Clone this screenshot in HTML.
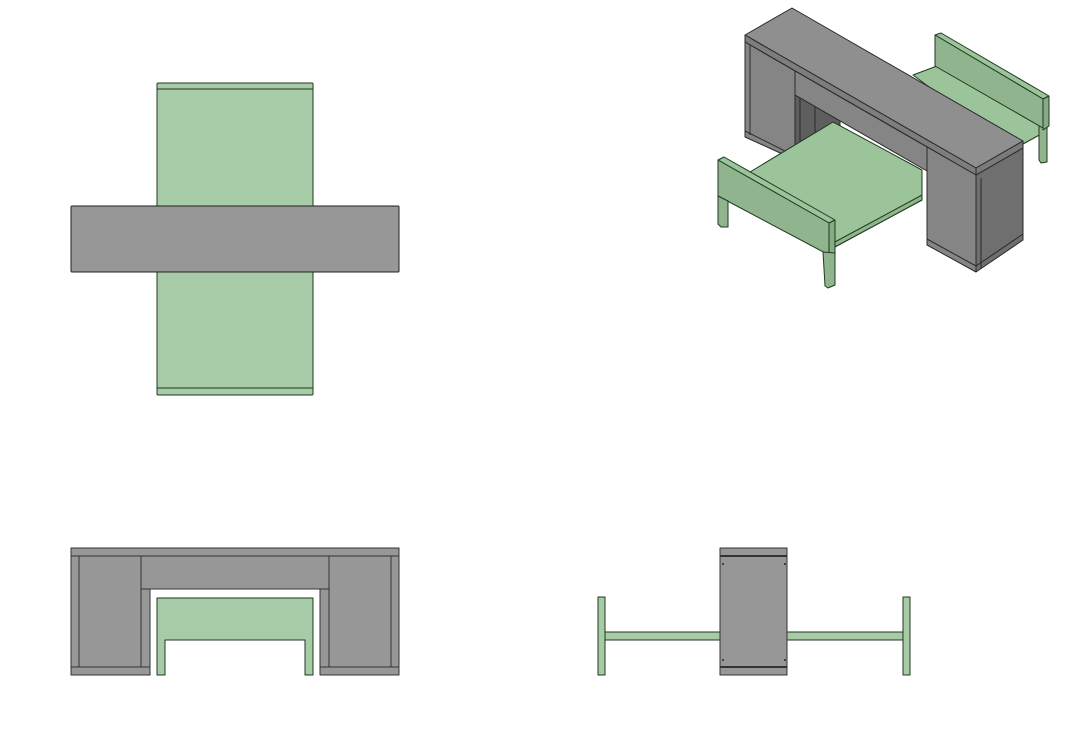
<!DOCTYPE html>
<html><head><meta charset="utf-8"><style>html,body{margin:0;padding:0;background:#fff}</style></head>
<body>
<svg width="1072" height="725" viewBox="0 0 1072 725" xmlns="http://www.w3.org/2000/svg" stroke="#222" stroke-width="1" stroke-linejoin="round">
<!-- TOP VIEW -->
<g fill="#a7cba6" stroke="#1f3a1f">
<rect x="157" y="83" width="156" height="312" rx="1"/>
<line x1="157" y1="89" x2="313" y2="89"/>
<line x1="157" y1="388" x2="313" y2="388"/>
</g>
<rect x="71" y="206" width="328" height="66" fill="#979797" rx="1"/>

<!-- FRONT VIEW -->
<g fill="#979797" stroke="#333">
<rect x="71" y="548" width="328" height="8"/>
<rect x="71" y="556" width="79" height="119"/>
<rect x="320" y="556" width="79" height="119"/>
<rect x="141" y="556" width="188" height="33"/>
<line x1="79" y1="556" x2="79" y2="667"/>
<line x1="141" y1="556" x2="141" y2="667"/>
<line x1="329" y1="589" x2="329" y2="667"/>
<line x1="391" y1="556" x2="391" y2="667"/>
<line x1="71" y1="667" x2="150" y2="667"/>
<line x1="320" y1="667" x2="399" y2="667"/>
</g>
<path d="M157 675 V598 H313 V675 H305 V640 H165 V675 Z" fill="#a7cba6" stroke="#1f3a1f"/>

<!-- SIDE VIEW -->
<g fill="#a7cba6" stroke="#1f3a1f">
<rect x="605" y="632" width="115" height="8"/>
<rect x="787" y="632" width="116" height="8"/>
<rect x="598" y="597" width="7" height="78"/>
<rect x="903" y="597" width="7" height="78"/>
</g>
<g fill="#979797" stroke="#333">
<rect x="720" y="548" width="67" height="127"/>
<line x1="720" y1="556" x2="787" y2="556" stroke-width="2"/>
<line x1="720" y1="667" x2="787" y2="667" stroke-width="2"/>
</g>
<g fill="#444" stroke="none">
<rect x="722" y="563" width="2" height="2"/><rect x="784" y="563" width="2" height="2"/>
<rect x="722" y="659" width="2" height="2"/><rect x="784" y="659" width="2" height="2"/>
</g>

<!-- ISOMETRIC -->
<!-- back bed -->
<g fill="#9cc49b" stroke="#1f3a1f">
<polygon points="913,75 937,66 1043,125 1043,133 1023,144 960,110"/>
<polygon points="1039,125 1047,122 1047,162 1041,163 1039,160" fill="#8fb48e"/>
<polygon points="935,35 941,33 1049,96 1043,99"/>
<polygon points="935,35 1043,99 1043,128 935,66" fill="#8fb48e"/>
<polygon points="1043,99 1049,96 1049,126 1043,130" fill="#86ab85"/>
</g>
<!-- desk -->
<g stroke="#2a2a2a">
<polygon points="745,35 792,8 1023,141 976,168" fill="#8f8f8f"/>
<polygon points="745,35 976,168 976,175 745,42" fill="#7d7d7d"/>
<polygon points="745,42 795,71 795,160 778,152 745,137" fill="#858585"/>
<polygon points="795,71 927,147 927,171 795,95" fill="#858585"/>
<polygon points="795,95 840,121 840,150 795,160" fill="#5e5e5e"/>
<line x1="800" y1="98" x2="800" y2="156"/><line x1="815" y1="106" x2="815" y2="152"/>
<polygon points="927,147 976,175 976,272 927,245" fill="#858585"/>
<polygon points="976,175 1023,148 1023,240 976,272" fill="#6f6f6f"/>
<polygon points="976,168 1023,141 1023,148 976,175" fill="#7a7a7a"/>
<line x1="750" y1="45" x2="750" y2="135"/>
<line x1="981" y1="178" x2="981" y2="269"/>
<line x1="745" y1="131" x2="795" y2="156"/>
<line x1="927" y1="239" x2="976" y2="266"/>
<line x1="976" y1="266" x2="1023" y2="234"/>
</g>
<!-- front bed -->
<g fill="#9cc49b" stroke="#1f3a1f">
<polygon points="750,172 833,122 922,170 922,200 833,248 800,230"/>
<polygon points="833,248 922,200 922,195 833,243" fill="#8fb48e"/>
<polygon points="718,160 724,157 835,220 829,223"/>
<polygon points="718,160 829,223 829,255 718,196" fill="#8fb48e"/>
<polygon points="829,223 835,220 835,253 829,256" fill="#86ab85"/>
<polygon points="718,196 728,201 728,227 721,227 718,224" fill="#8fb48e"/>
<polygon points="823,252 835,253 835,285 828,288 825,286" fill="#8fb48e"/>
</g>
</svg>
</body></html>
